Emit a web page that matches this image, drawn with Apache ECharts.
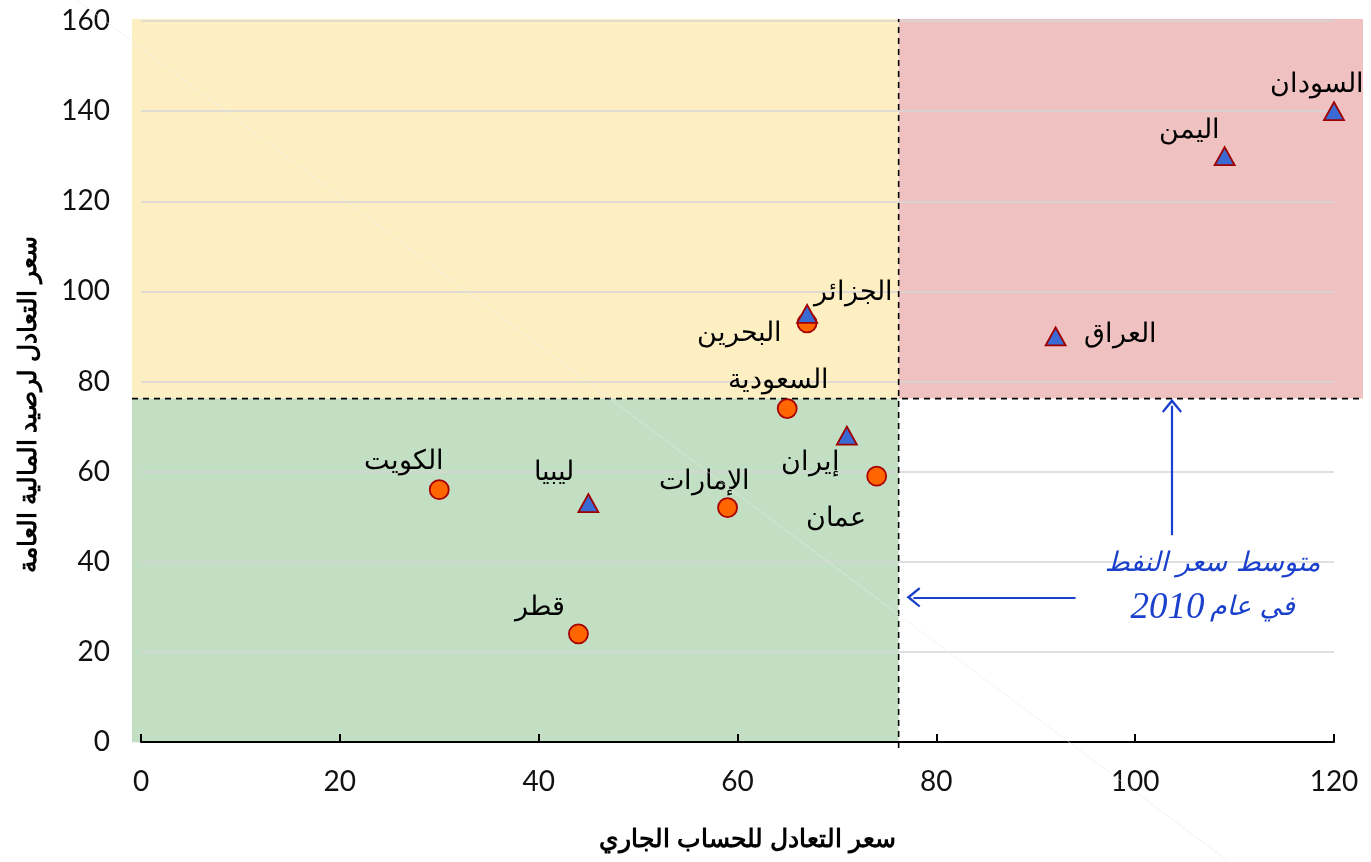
<!DOCTYPE html>
<html><head><meta charset="utf-8">
<script src="https://cdn.jsdelivr.net/npm/echarts@6/dist/echarts.min.js"></script>
<style>html,body{margin:0;padding:0;background:#fff}#c{width:1371px;height:862px}</style>
</head><body><div id="c"></div>
<script>
// ---- data ----
const xTicks = [0, 20, 40, 60, 80, 100, 120];
const yTicks = [0, 20, 40, 60, 80, 100, 120, 140, 160];
const oilPrice2010 = 76.2;
// circle markers
const circleNames = ['الكويت', 'قطر', 'الإمارات', 'السعودية', 'البحرين', 'عمان'];
const circleX = [30, 44, 59, 65, 67, 74];
const circleY = [56, 24, 52, 74, 93, 59];
// triangle markers
const triNames = ['ليبيا', 'الجزائر', 'إيران', 'العراق', 'اليمن', 'السودان'];
const triX = [45, 67, 71, 92, 109, 120];
const triY = [53, 95, 68, 90, 130, 140];
const xTitle = 'سعر التعادل للحساب الجاري';
const yTitle = 'سعر التعادل لرصيد المالية العامة';
const noteLine1 = 'متوسط سعر النفط';
const noteLine2a = 'في عام';
const noteLine2b = '2010';

// ---- styles (label offsets in px) ----
const circleLabelOffsets = [[-35,-28],[-38,-26],[-23,-26],[-9,-28],[-68,11],[-41,42]];
const triLabelOffsets = [[-34,-31],[46,-21],[-36,27],[65,-2],[-35,-26],[-17,-27]];
const BG = {xMin:-0.9, xMax:122.9, yMin:-1.3, yMax:160.4};
const regions = [
  [BG.xMin, oilPrice2010, oilPrice2010, BG.yMax, '#feefc3'],
  [oilPrice2010, oilPrice2010, BG.xMax, BG.yMax, '#efc1c1'],
  [BG.xMin, 0, oilPrice2010, oilPrice2010, '#c3dfc3']
];

const chart = echarts.init(document.getElementById('c'));
const arrowPath = 'path://M0,12 L10,0 L20,12 L18.4,13.4 L10,3.8 L1.6,13.4 Z';
const blue = '#1a40cc';

function mk(names, xs, ys, offs) {
  return names.map((n, i) => ({
    name: n, value: [xs[i], ys[i]],
    label: {show: true, position: 'inside', offset: offs[i], formatter: n}
  }));
}

const option = {
  animation: false,
  grid: [
    {left: 141, right: 37, top: 21, bottom: 120},
    {left: 132, right: 8, top: 19, bottom: 114}
  ],
  xAxis: [
    {gridIndex: 0, type: 'value', min: 0, max: 120, interval: 20, z: 3,
     name: xTitle, nameLocation: 'middle', nameGap: 86,
     nameTextStyle: {fontSize: 25, fontWeight: 'bold', color: '#000', fontFamily: 'Liberation Sans', padding: [0, 0, 0, 20]},
     axisLine: {show: true, lineStyle: {color: '#000', width: 2}},
     axisTick: {show: true, inside: true, length: 8, lineStyle: {color: '#000', width: 2}},
     axisLabel: {fontSize: 28, color: '#111', margin: 26, fontFamily: 'Lato'},
     splitLine: {show: false}},
    {gridIndex: 1, type: 'value', min: BG.xMin, max: BG.xMax, show: false}
  ],
  yAxis: [
    {gridIndex: 0, type: 'value', min: 0, max: 160, interval: 20, z: 3,
     name: yTitle, nameLocation: 'middle', nameGap: 99, nameRotate: 90,
     nameTextStyle: {fontSize: 25, fontWeight: 'bold', color: '#000', fontFamily: 'Liberation Sans', padding: [0, 46, 0, 0]},
     axisLine: {show: false}, axisTick: {show: false},
     axisLabel: {fontSize: 28, color: '#111', margin: 31, fontFamily: 'Lato'},
     splitLine: {show: true, lineStyle: {color: '#d6d6d6', width: 1.5}}},
    {gridIndex: 1, type: 'value', min: BG.yMin, max: BG.yMax, show: false}
  ],
  series: [
    {type: 'custom', xAxisIndex: 1, yAxisIndex: 1, z: 1, silent: true,
     data: regions,
     renderItem: (params, api) => {
       const p0 = api.coord([api.value(0), api.value(3)]);
       const p1 = api.coord([api.value(2), api.value(1)]);
       return {type: 'rect', shape: {x: p0[0], y: p0[1], width: p1[0]-p0[0], height: p1[1]-p0[1]},
               style: {fill: regions[params.dataIndex][4]}};
     }},
    {type: 'line', xAxisIndex: 1, yAxisIndex: 1, z: 4, symbol: 'none', silent: true,
     data: [[BG.xMin, oilPrice2010], [BG.xMax, oilPrice2010]],
     lineStyle: {color: '#000', width: 1.6, type: [6, 5]}},
    {type: 'line', xAxisIndex: 1, yAxisIndex: 1, z: 4, symbol: 'none', silent: true,
     data: [[oilPrice2010, BG.yMin], [oilPrice2010, BG.yMax]],
     lineStyle: {color: '#000', width: 1.6, type: [6, 5]}},
    {type: 'scatter', xAxisIndex: 0, yAxisIndex: 0, z: 5,
     symbol: 'circle', symbolSize: 19,
     itemStyle: {color: '#ff6600', borderColor: '#a80000', borderWidth: 1.8, opacity: 1},
     label: {color: '#000', fontSize: 27, fontFamily: 'Liberation Sans'},
     data: mk(circleNames, circleX, circleY, circleLabelOffsets),
     markLine: {
       silent: true, symbol: ['none', arrowPath], symbolSize: [20, 14],
       lineStyle: {color: blue, width: 2.2, type: 'solid'},
       label: {show: false},
       data: [
         [{coord: [103.7, 45.9]}, {coord: [103.7, 74.6]}],
         [{coord: [94, 32.1]}, {coord: [77.7, 32.1]}]
       ]
     },
     markPoint: {
       silent: true, symbol: 'circle', symbolSize: 0,
       data: [{coord: [107.8, 34.6],
         label: {show: true, position: 'inside',
           formatter: '{a|' + noteLine1 + '}\n{b|' + noteLine2b + '}{s| }{a|' + noteLine2a + '}',
           align: 'center',
           rich: {
             a: {color: blue, fontSize: 27, fontStyle: 'italic', fontFamily: 'DejaVu Sans', lineHeight: 44, align: 'center'},
             s: {color: blue, fontSize: 20, lineHeight: 44},
             b: {color: blue, fontSize: 37, fontStyle: 'italic', fontFamily: 'Liberation Serif', lineHeight: 44}
           }}}]
     }},
    {type: 'scatter', xAxisIndex: 0, yAxisIndex: 0, z: 6,
     symbol: 'triangle', symbolSize: [20, 18],
     itemStyle: {color: '#3a6ad4', borderColor: '#a00000', borderWidth: 1.8, opacity: 1},
     label: {color: '#000', fontSize: 27, fontFamily: 'Liberation Sans'},
     data: mk(triNames, triX, triY, triLabelOffsets)}
  ],
  graphic: [
    {type: 'line', z: 10, silent: true, shape: {x1: 77, y1: 0, x2: 1240, y2: 870},
     style: {stroke: 'rgba(235,235,235,0.55)', lineWidth: 1}}
  ]
};
chart.setOption(option);
</script></body></html>
